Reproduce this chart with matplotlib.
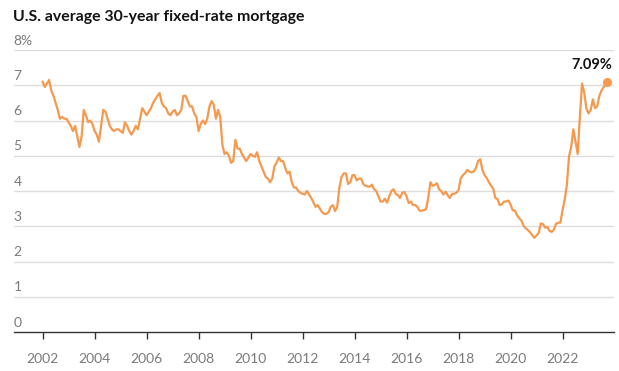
import numpy as np
import matplotlib
matplotlib.use("Agg")
import matplotlib.pyplot as plt

# Monatliche Werte (ungefaehr) - 30-jaehrige Hypothek, Prozent
start_year = 2002
rates = [
    # 2002
    7.10, 6.95, 7.05, 7.15, 6.85, 6.70, 6.50, 6.30, 6.05, 6.10, 6.05, 6.05,
    # 2003
    5.95, 5.85, 5.70, 5.85, 5.55, 5.25, 5.55, 6.30, 6.15, 5.95, 6.00, 5.90,
    # 2004
    5.70, 5.60, 5.40, 5.85, 6.30, 6.25, 6.05, 5.85, 5.75, 5.70, 5.75, 5.75,
    # 2005
    5.70, 5.65, 5.95, 5.85, 5.70, 5.60, 5.70, 5.85, 5.75, 6.05, 6.35, 6.25,
    # 2006
    6.15, 6.25, 6.35, 6.50, 6.60, 6.70, 6.78, 6.50, 6.40, 6.35, 6.20, 6.15,
    # 2007
    6.25, 6.30, 6.15, 6.20, 6.30, 6.70, 6.70, 6.55, 6.40, 6.40, 6.20, 6.10,
    # 2008
    5.70, 5.90, 6.00, 5.90, 6.05, 6.40, 6.55, 6.45, 6.05, 6.30, 6.10, 5.30,
    # 2009
    5.05, 5.10, 5.00, 4.80, 4.85, 5.45, 5.20, 5.20, 5.05, 4.95, 4.85, 4.95,
    # 2010
    5.05, 5.00, 4.97, 5.10, 4.85, 4.70, 4.55, 4.40, 4.35, 4.25, 4.35, 4.70,
    # 2011
    4.80, 4.95, 4.85, 4.85, 4.65, 4.50, 4.55, 4.25, 4.10, 4.10, 4.00, 3.95,
    # 2012
    3.92, 3.90, 4.00, 3.90, 3.80, 3.68, 3.55, 3.60, 3.50, 3.40, 3.35, 3.35,
    # 2013
    3.40, 3.55, 3.60, 3.43, 3.55, 4.10, 4.40, 4.50, 4.50, 4.20, 4.25, 4.45,
    # 2014
    4.45, 4.30, 4.35, 4.35, 4.20, 4.15, 4.13, 4.12, 4.18, 4.05, 4.00, 3.85,
    # 2015
    3.70, 3.70, 3.78, 3.67, 3.85, 4.00, 4.05, 3.92, 3.88, 3.80, 3.95, 3.97,
    # 2016
    3.85, 3.66, 3.70, 3.60, 3.60, 3.55, 3.44, 3.44, 3.46, 3.48, 3.80, 4.25,
    # 2017
    4.15, 4.17, 4.22, 4.05, 4.00, 3.90, 3.98, 3.88, 3.80, 3.92, 3.92, 3.95,
    # 2018
    4.03, 4.35, 4.45, 4.50, 4.60, 4.55, 4.53, 4.55, 4.65, 4.85, 4.90, 4.60,
    # 2019
    4.45, 4.37, 4.25, 4.15, 4.07, 3.80, 3.77, 3.60, 3.62, 3.70, 3.70, 3.73,
    # 2020
    3.62, 3.45, 3.45, 3.31, 3.23, 3.16, 3.02, 2.94, 2.89, 2.83, 2.75, 2.67,
    # 2021
    2.74, 2.81, 3.08, 3.06, 2.96, 2.98, 2.87, 2.84, 2.90, 3.07, 3.10, 3.10,
    # 2022
    3.45, 3.76, 4.17, 4.98, 5.25, 5.75, 5.40, 5.05, 6.10, 7.05, 6.80, 6.35,
    # 2023 (bis Juli)
    6.20, 6.30, 6.60, 6.35, 6.40, 6.70, 6.85,
]
last_date = 2023.7
last_rate = 7.09

year_ticks = [2002, 2004, 2006, 2008, 2010, 2012, 2014, 2016, 2018, 2020, 2022]
y_ticks = [0, 1, 2, 3, 4, 5, 6, 7, 8]

orange = "#F5994F"
grau = "#7a7a7a"

plt.rcParams['font.family'] = ['Lato', 'DejaVu Sans']

x = [start_year + i / 12 for i in range(len(rates))] + [last_date]
y = rates + [last_rate]

fig = plt.figure(figsize=(6.19, 3.71), dpi=100)
ax = fig.add_axes([13.5 / 619, 1 - 332 / 371, (614 - 13.5) / 619, (332 - 50) / 371])

# Gitterlinien
for v in y_ticks[1:]:
    ax.axhline(v, color="#dddddd", lw=1, zorder=0)

ax.plot(x, y, color=orange, lw=1.6, zorder=3, solid_joinstyle="round")
ax.scatter([last_date], [last_rate], s=30, color=orange, zorder=4)
ax.annotate(f"{last_rate:.2f}%", (last_date, last_rate), xytext=(4, 7),
            textcoords="offset points", ha="right", va="bottom",
            fontsize=10.5, fontweight="bold", color="#121212")

ax.set_xlim(2000.88, 2023.98)
ax.set_ylim(0, 8)

for s in ["top", "right", "left"]:
    ax.spines[s].set_visible(False)
ax.spines["bottom"].set_color("#333333")
ax.spines["bottom"].set_linewidth(1)

ax.set_xticks(year_ticks)
ax.set_xticklabels([str(t) for t in year_ticks])
ax.tick_params(axis="x", direction="out", length=5, width=1, color="#333333",
               labelcolor=grau, labelsize=10, pad=10)
ax.set_yticks([])

# Y-Beschriftung ueber den Gitterlinien
for v in y_ticks:
    label = f"{v}%" if v == 8 else str(v)
    ax.annotate(label, (0, v), xycoords=("axes fraction", "data"),
                xytext=(0, 6.8), textcoords="offset points",
                ha="left", va="center", fontsize=10, color=grau)

fig.text(13 / 619, 1 - 17 / 371, "U.S. average 30-year fixed-rate mortgage",
         ha="left", va="center", fontsize=11.4, fontweight="bold", color="#121212")

fig.savefig("out.png", dpi=100)
